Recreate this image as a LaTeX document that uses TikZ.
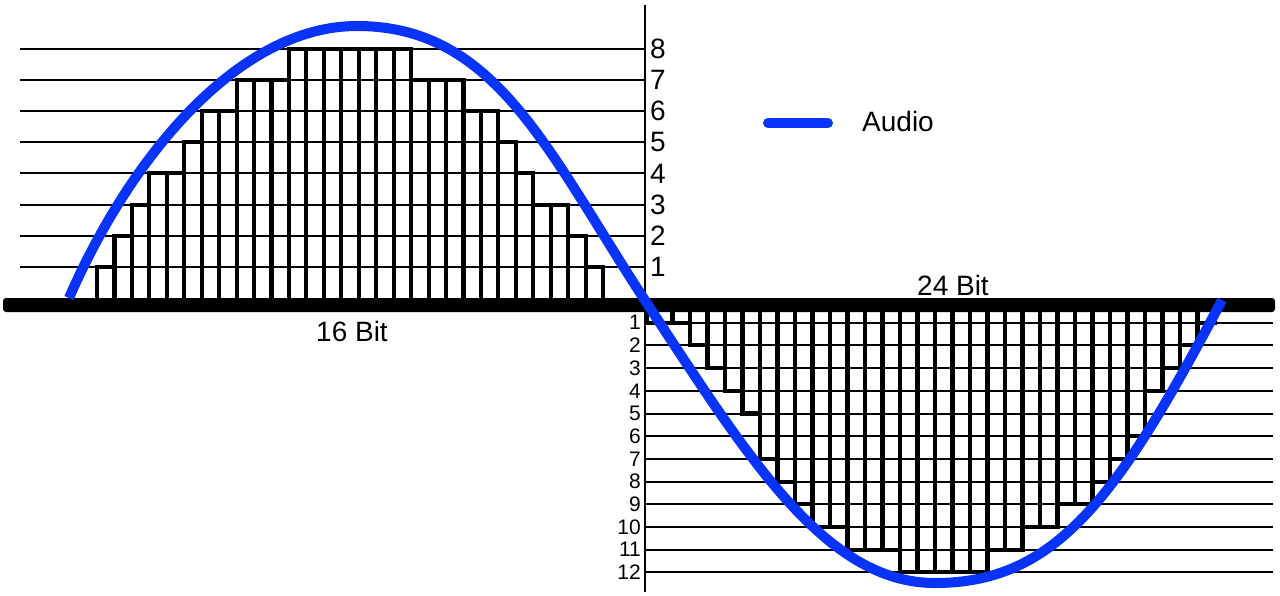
\documentclass[tikz,border=0pt]{standalone}
\usepackage{fontspec}
\setmainfont{Liberation Sans}
\definecolor{audioblue}{RGB}{8,51,250}
\begin{document}
\begin{tikzpicture}[x=1pt,y=-1pt,
  gridline/.style={line width=2pt, black},
  barbox/.style={line width=4.1pt, black, line join=miter},
  bigtxt/.style={font=\fontsize{28}{30}\selectfont, inner sep=0pt},
  smalltxt/.style={font=\fontsize{21}{23}\selectfont, inner sep=0pt},
  audio/.style={line width=10pt, draw=audioblue}]
\useasboundingbox (0,0) rectangle (1280,595);
% grid lines
\foreach \k in {1,...,8} \draw[gridline] (20,{298-31.14*\k}) -- (645,{298-31.14*\k});
\foreach \k in {1,...,12} \draw[gridline] (645,{300+22.7*\k}) -- (1273,{300+22.7*\k});
% vertical axis
\draw[line width=2pt] (645,5) -- (645,592);
% left bars (16 Bit)
\foreach \L [count=\i from 0] in {1,2,3,4,4,5,6,6,7,7,7,8,8,8,8,8,8,8,7,7,7,6,6,5,4,3,3,2,1}
  \draw[barbox] ({97+17.45*\i},305) rectangle ({97+17.45*(\i+1)},{298-31.14*\L});
% right bars (24 Bit)
\draw[barbox] (647,305) rectangle (672.5,322.7);
\foreach \L [count=\i from 1] in {1,2,3,4,5,7,8,9,10,10,11,11,11,12,12,12,12,12,11,11,10,10,9,9,8,7,6,4,3,2,1}
  \draw[barbox] ({655+17.5*\i},305) rectangle ({655+17.5*(\i+1)},{300+22.7*\L});
% baseline
\fill[black, rounded corners=3pt] (3,298) rectangle (1275,312);
% level labels
\foreach \k in {1,...,8} \node[bigtxt, anchor=west] (ll\k) at (650,{298-31.14*\k}) {\k};
\foreach \k in {1,...,12} \node[smalltxt, anchor=east] (rl\k) at (641,{300+22.7*\k}) {\k};
% captions
\node[bigtxt] (b16) at (352,331) {16 Bit};
\node[bigtxt] (b24) at (953,285) {24 Bit};
% legend
\coordinate (lg1) at (768,123);
\coordinate (lg2) at (828,123);
\draw[audio, line cap=round] (lg1) -- (lg2);
\node[bigtxt, anchor=west] (leg) at (862,121) {Audio};
% audio wave
\draw[audio] (69,298) .. controls (129,160) and (237,26) .. (357,26)
  .. controls (497,26) and (548,153) .. (648,305)
  .. controls (748,457) and (825,583) .. (935,583)
  .. controls (1055,583) and (1117,499.5) .. (1222,300);
\end{tikzpicture}
\end{document}
